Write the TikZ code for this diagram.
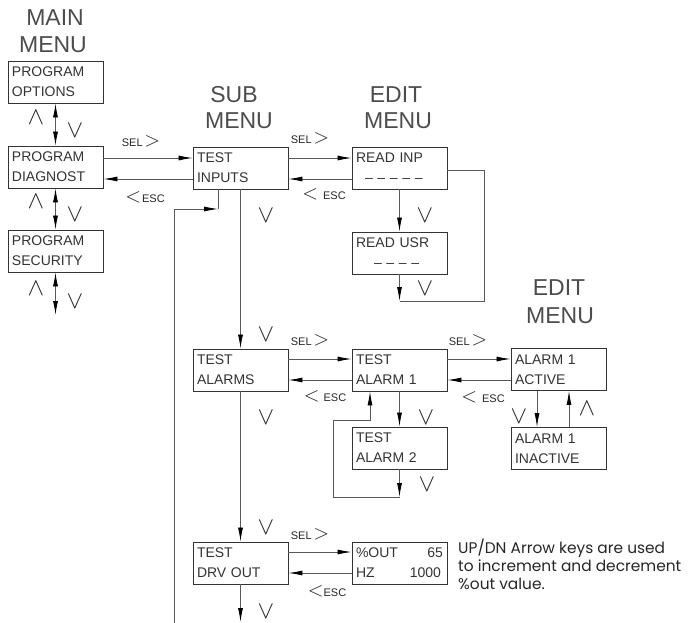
\documentclass[tikz,border=0pt]{standalone}
\usepackage{fontspec}
\setmainfont{Liberation Sans}
\newfontfamily\notefont{Poppins}
\usetikzlibrary{arrows.meta}
\begin{document}
\begin{tikzpicture}[x=1pt,y=-1pt,
  box/.style={draw=black!80, line width=0.9pt, minimum height=42pt, text width=87pt,
    align=left, inner xsep=4pt, inner ysep=0pt, font=\fontsize{14}{20}\selectfont, text=black!80},
  title/.style={font=\fontsize{23}{23}\selectfont, text=black!70, inner sep=0pt},
  lab/.style={inner sep=0pt, text=black!85},
  chev/.style={font=\fontsize{24}{24}\selectfont, inner sep=0pt, text=black!85},
  ln/.style={draw=black!65, line width=0.8pt},
  arr/.style={ln, -{Latex[length=14pt,width=5pt,color=black]}},
  darr/.style={ln, {Latex[length=14pt,width=5pt,color=black]}-{Latex[length=14pt,width=5pt,color=black]}},
]
\newcommand\selgt{{\fontsize{11}{11}\selectfont SEL}\,{\fontsize{20}{20}\selectfont$>$}}
\newcommand\ltesc[1]{{\fontsize{20}{20}\selectfont$<$}\hspace{#1}{\fontsize{11}{11}\selectfont ESC}}
\useasboundingbox (0,0) rectangle (693,623);

% titles
\node[title] (t1a) at (55,17.5) {MAIN};
\node[title] (t1b) at (53,45) {MENU};
\node[title] (t2a) at (234,95) {SUB};
\node[title] (t2b) at (239,121) {MENU};
\node[title] (t3a) at (396,95) {EDIT};
\node[title] (t3b) at (398,121) {MENU};
\node[title] (t4a) at (559,288) {EDIT};
\node[title] (t4b) at (560,316) {MENU};

% boxes
\node[box] (opt) at (55.5,82) {PROGRAM\\OPTIONS};
\node[box] (diag) at (55.5,167) {PROGRAM\\DIAGNOST};
\node[box] (sec) at (55.5,251) {PROGRAM\\SECURITY};
\node[box] (tin) at (240.5,168) {TEST\\INPUTS};
\node[box] (rinp) at (399.5,168) {READ INP\\\hspace*{9pt}– – – – –};
\node[box] (rusr) at (399.5,253) {READ USR\\\hspace*{18pt}– – – –};
\node[box] (tal) at (240.5,370) {TEST\\ALARMS};
\node[box] (al1) at (399.5,370) {TEST\\ALARM 1};
\node[box] (al2) at (399.5,448) {TEST\\ALARM 2};
\node[box] (act) at (558.5,369.5) {ALARM 1\\ACTIVE};
\node[box] (inact) at (558.5,448.5) {ALARM 1\\INACTIVE};
\node[box] (tdrv) at (240.5,563) {TEST\\DRV OUT};
\node[box] (out) at (399.5,563) {\%OUT\hfill 65\hspace*{2pt}\\HZ\hfill 1000\hspace*{2pt}};

% note
\node[anchor=north west, align=left, inner sep=0pt, font=\notefont\fontsize{15.4}{18}\selectfont, text=black!85] (note) at (458,538.5) {UP/DN Arrow keys are used\\to increment and decrement\\\%out value.};

% main menu connectors
\coordinate (secend) at (55.5,315);
\draw[darr] (opt) -- (diag);
\draw[darr] (diag) -- (sec);
\draw[darr] (sec) -- (secend);
\node[chev] (u1) at (36,118) {$\wedge$};
\node[chev] (d1) at (75,131) {$\vee$};
\node[chev] (u2) at (36,202) {$\wedge$};
\node[chev] (d2) at (75,215) {$\vee$};
\node[chev] (u3) at (36,289) {$\wedge$};
\node[chev] (d3) at (75,302) {$\vee$};

% diag <-> test inputs
\draw[arr] (diag.east |- 0,158) -- (tin.west |- 0,158);
\draw[arr] (tin.west |- 0,179) -- (diag.east |- 0,179);
\node[lab] (s1) at (141,141) {\selgt};
\node[lab] (e1) at (145,197) {\ltesc{1pt}};

% test inputs <-> read inp
\draw[arr] (tin.east |- 0,158) -- (rinp.west |- 0,158);
\draw[arr] (rinp.west |- 0,179) -- (tin.east |- 0,179);
\node[lab] (s2) at (310,138) {\selgt};
\node[lab] (e2) at (324,194) {\ltesc{5pt}};

% read inp / read usr
\coordinate (loopR) at (399.5,301);
\coordinate (rc1) at (484,170);
\coordinate (rc2) at (484,301);
\draw[arr] (rinp) -- (rusr);
\draw[arr] (rusr) -- (loopR);
\draw[ln] (rinp.east |- rc1) -- (rc1) -- (rc2) -- (loopR);
\node[chev] (d4) at (425,216) {$\vee$};
\node[chev] (d5) at (425,289) {$\vee$};

% return line into test inputs
\coordinate (tinj) at (218,209);
\coordinate (leftbot) at (174,623);
\draw[arr] (leftbot) |- (tinj);
\draw[ln] (tinj) -- (tin.south -| tinj);

% vertical sub menu chain
\coordinate (drvend) at (240.5,622);
\draw[arr] (tin) -- (tal);
\draw[arr] (tal) -- (tdrv);
\draw[arr] (tdrv) -- (drvend);
\node[chev] (d6) at (266,216) {$\vee$};
\node[chev] (d7) at (266,335) {$\vee$};
\node[chev] (d8) at (266,418) {$\vee$};
\node[chev] (d9) at (266,528) {$\vee$};
\node[chev] (d10) at (266,612) {$\vee$};

% test alarms <-> alarm 1
\draw[arr] (tal.east |- 0,359) -- (al1.west |- 0,359);
\draw[arr] (al1.west |- 0,380) -- (tal.east |- 0,380);
\node[lab] (s3) at (310,340) {\selgt};
\node[lab] (e3) at (325,396) {\ltesc{4pt}};

% alarm 1 <-> active
\draw[arr] (al1.east |- 0,359) -- (act.west |- 0,359);
\draw[arr] (act.west |- 0,380) -- (al1.east |- 0,380);
\node[lab] (s4) at (468,340) {\selgt};
\node[lab] (e4) at (483,397) {\ltesc{5pt}};

% alarm 1 / alarm 2 loop
\coordinate (al2end) at (399.5,497);
\coordinate (ac1) at (333,497);
\coordinate (ac2) at (333,420);
\coordinate (ac3) at (370,420);
\draw[arr] (al1) -- (al2);
\draw[arr] (al2) -- (al2end);
\draw[arr] (al2end) -- (ac1) -- (ac2) -- (ac3) -- (al1.south -| ac3);
\node[chev] (d11) at (426,418) {$\vee$};
\node[chev] (d12) at (427,485) {$\vee$};

% active <-> inactive
\draw[arr] (act.south -| 537,0) -- (inact.north -| 537,0);
\draw[arr] (inact.north -| 569,0) -- (act.south -| 569,0);
\node[chev] (d13) at (519,417) {$\vee$};
\node[chev] (u4) at (587,409) {$\wedge$};

% test drv out <-> %out
\draw[arr] (tdrv.east |- 0,552) -- (out.west |- 0,552);
\draw[arr] (out.west |- 0,573) -- (tdrv.east |- 0,573);
\node[lab] (s5) at (310,534) {\selgt};
\node[lab] (e5) at (327,591) {\ltesc{0pt}};
\end{tikzpicture}
\end{document}
